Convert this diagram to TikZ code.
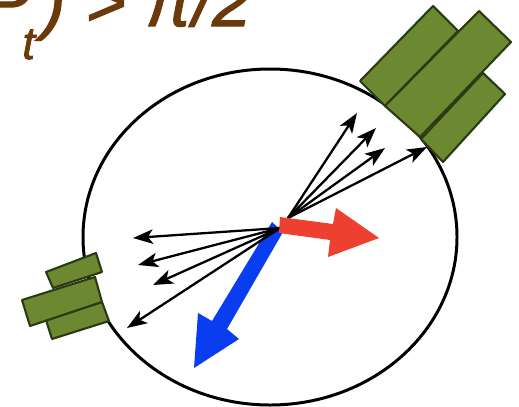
\documentclass[tikz,border=0pt]{standalone}
\usepackage{fontspec}
\setmainfont{Liberation Sans}
\newfontfamily\titlefont[FakeBold=1.6]{Liberation Sans}
\usetikzlibrary{arrows.meta}
\definecolor{titlebrown}{HTML}{6B3A0A}
\definecolor{detgreen}{HTML}{6C8932}
\definecolor{detedge}{HTML}{2C3A14}
\definecolor{jetred}{HTML}{EE4030}
\definecolor{jetblue}{HTML}{0A3CF0}
\tikzset{
  detector/.style={
    draw=detedge,
    line width=1.2pt,
    fill=detgreen,
    line join=round
  },
  track/.style={
    -{Stealth[length=4mm, width=2.9mm, inset=1mm]},
    line width=1.3pt,
    color=black
  },
  title/.style={
    font=\fontsize{40}{40}\titlefont\itshape,
    color=titlebrown,
    anchor=base west,
    inner sep=0pt
  }
}
\begin{document}
\begin{tikzpicture}[x=0.02cm, y=-0.02cm]
  \clip (0,0) rectangle (519,406);

  % Title
  \node[title] (cut) at (-17,26) {P\kern-4.5pt\raisebox{-0.47em}{\fontsize{26}{26}\selectfont t}\kern4pt) > π/2};

  % Barrel
  \draw[line width=1.7pt] (270,237) ellipse [x radius=187, y radius=168];

  % Detector, upper right
  \draw[detector] (433,6) -- (458,31) -- (385,106) -- (360,81) -- cycle;
  \draw[detector] (483,73) -- (505,94) -- (443,162) -- (421,139) -- cycle;
  \draw[detector] (479,11) -- (511,42) -- (420,137) -- (385,106) -- cycle;

  % Detector, lower left
  \draw[detector] (96,253) -- (102,272) -- (53,288) -- (46,272) -- cycle;
  \draw[detector] (102,302) -- (109,321) -- (52,339) -- (46,320) -- cycle;
  \draw[detector] (95,277) -- (102,302) -- (30,326) -- (22,300) -- cycle;

  % Recoil jet
  \fill[jetblue] (272,222) -- (283,232) -- (227,329) -- (239,339) -- (194,368)
    -- (198,313) -- (212,321) -- cycle;

  % Tracks
  \coordinate (vtxleft) at (280,228);
  \coordinate (vtxright) at (288,218);
  \coordinate (left1) at (133,238);
  \coordinate (left2) at (138,265);
  \coordinate (left3) at (153,285);
  \coordinate (left4) at (127,328);
  \coordinate (right1) at (357,113);
  \coordinate (right2) at (376,128);
  \coordinate (right3) at (385,148);
  \coordinate (right4) at (427,147);
  \foreach \i in {1,2,3,4} {
    \draw[track] (vtxleft) -- (left\i);
    \draw[track] (vtxright) -- (right\i);
  }

  % Leading jet
  \fill[jetred] (280,217) -- (333,224) -- (336,208) -- (379,238) -- (328,257)
    -- (330,240) -- (279,233) -- cycle;
\end{tikzpicture}
\end{document}
